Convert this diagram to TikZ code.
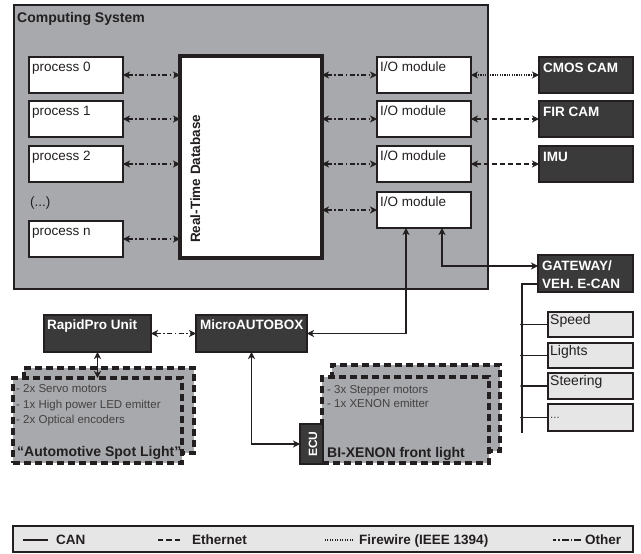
\documentclass[tikz,border=0pt]{standalone}
\usepackage{fontspec}
\setmainfont{Liberation Sans}
\usetikzlibrary{arrows.meta,calc}
\definecolor{sysgray}{HTML}{A7A9AC}
\definecolor{darkfill}{HTML}{3A3A3A}
\definecolor{lightfill}{HTML}{E6E6E7}
\definecolor{ink}{HTML}{231F20}
\tikzset{
 box/.style={inner sep=0pt, outer sep=0pt, anchor=north west},
 sysbox/.style={box, fill=sysgray, draw=ink, line width=1.5pt},
 wbox/.style={box, fill=white, draw=ink, line width=1.4pt},
 dbbox/.style={box, fill=white, draw=ink, line width=3.5pt},
 dbox/.style={box, fill=darkfill, draw=ink, line width=1.2pt},
 lbox/.style={box, fill=lightfill, draw=ink, line width=1.2pt},
 spotbox/.style={box, fill=sysgray, draw=ink, line width=3.3pt, dash pattern=on 7pt off 4pt},
 txt/.style={inner sep=0pt, anchor=base west, text=ink, font=\fontsize{13.5}{16}\selectfont},
 btxt/.style={txt, font=\fontsize{14}{16}\selectfont\bfseries},
 ltxt/.style={txt, font=\fontsize{13.5}{16}\selectfont\bfseries},
 dtxt/.style={inner sep=0pt, anchor=base west, text=white, font=\fontsize{13.5}{16}\selectfont\bfseries},
 stxt/.style={txt, text=ink!85, font=\fontsize{11.5}{14}\selectfont},
 tip/.tip={Stealth[length=7pt,width=7pt,inset=2pt]},
 conn/.style={line width=1.3pt, draw=ink, tip-tip},
 can/.style={conn},
 ether/.style={conn, dash pattern=on 5pt off 3pt},
 fire/.style={conn, dash pattern=on 1.2pt off 1.2pt},
 other/.style={conn, dash pattern=on 5pt off 2.5pt on 1.5pt off 2.5pt},
 bus/.style={line width=1.3pt, draw=ink},
}
\begin{document}
\begin{tikzpicture}[x=1pt,y=-1pt]
\useasboundingbox (0,0) rectangle (641,554);

% Computing system
\node[sysbox, minimum width=474pt, minimum height=284pt] (sys) at (14,5) {};
\node[btxt] (syst) at (17,22) {Computing System};

% processes
\node[wbox, minimum width=94pt, minimum height=36pt] (p0) at (29,57) {};
\node[wbox, minimum width=94pt, minimum height=36pt] (p1) at (29,101) {};
\node[wbox, minimum width=94pt, minimum height=36pt] (p2) at (29,146) {};
\node[wbox, minimum width=94pt, minimum height=36pt] (pn) at (29,221) {};
\node[txt] (p0t) at (32,71) {process 0};
\node[txt] (p1t) at (32,115) {process 1};
\node[txt] (p2t) at (32,160) {process 2};
\node[txt] (pdt) at (30,206) {(...)};
\node[txt] (pnt) at (32,235) {process n};

% RTDB
\node[dbbox, minimum width=142pt, minimum height=202pt] (db) at (180,56) {};
\node[ltxt, rotate=90] (dbt) at (200,243) {Real-Time Database};

% IO modules
\node[wbox, minimum width=94pt, minimum height=36pt] (io0) at (377,57) {};
\node[wbox, minimum width=94pt, minimum height=36pt] (io1) at (377,101) {};
\node[wbox, minimum width=94pt, minimum height=36pt] (io2) at (377,146) {};
\node[wbox, minimum width=94pt, minimum height=36pt] (io3) at (377,192) {};
\node[txt] (io0t) at (380,71) {I/O module};
\node[txt] (io1t) at (380,115) {I/O module};
\node[txt] (io2t) at (380,160) {I/O module};
\node[txt] (io3t) at (380,206) {I/O module};

% sensors
\node[dbox, minimum width=94pt, minimum height=36pt] (cmos) at (539,57) {};
\node[dbox, minimum width=94pt, minimum height=36pt] (fir) at (539,101) {};
\node[dbox, minimum width=94pt, minimum height=36pt] (imu) at (539,146) {};
\node[dtxt] (cmost) at (543,72) {CMOS CAM};
\node[dtxt] (firt) at (543,116) {FIR CAM};
\node[dtxt] (imut) at (543,161) {IMU};

% gateway
\node[dbox, minimum width=95pt, minimum height=37pt] (gw) at (538,255) {};
\node[dtxt] (gw1) at (542,270) {GATEWAY/};
\node[dtxt] (gw2) at (542,288) {VEH. E-CAN};

% CAN signals
\node[lbox, minimum width=85pt, minimum height=25pt] (spd) at (548,312) {};
\node[lbox, minimum width=85pt, minimum height=25pt] (lig) at (548,343) {};
\node[lbox, minimum width=85pt, minimum height=26pt] (ste) at (548,373) {};
\node[lbox, minimum width=85pt, minimum height=27pt] (dots) at (548,404) {};
\node[txt, font=\fontsize{14}{16}\selectfont] (spdt) at (550,324) {Speed};
\node[txt, font=\fontsize{14}{16}\selectfont] (ligt) at (550,355) {Lights};
\node[txt, font=\fontsize{14}{16}\selectfont] (stet) at (550,385) {Steering};
\node[stxt] (dotst) at (550,418) {...};

% RapidPro / MicroAUTOBOX
\node[dbox, minimum width=107pt, minimum height=37pt] (rp) at (44,315) {};
\node[dtxt] (rpt) at (47,329) {RapidPro Unit};
\node[dbox, minimum width=111pt, minimum height=37pt] (mab) at (196,315) {};
\node[dtxt] (mabt) at (200,329) {MicroAUTOBOX};

% Spot light
\node[spotbox, minimum width=170pt, minimum height=85pt] (spotb) at (24,368) {};
\node[spotbox, minimum width=169pt, minimum height=85pt] (spotf) at (13,378) {};
\node[stxt] (s1) at (16,392) {- 2x Servo motors};
\node[stxt] (s2) at (16,408) {- 1x High power LED emitter};
\node[stxt] (s3) at (16,423) {- 2x Optical encoders};
\node[btxt] (spott) at (17,456) {\char"201C Automotive Spot Light\char"201D};

% BI-XENON
\node[spotbox, minimum width=168pt, minimum height=86pt] (bib) at (332,365) {};
\node[spotbox, minimum width=167pt, minimum height=86pt] (bif) at (322,377) {};
\node[stxt] (b1) at (327,393) {- 3x Stepper motors};
\node[stxt] (b2) at (327,407) {- 1x XENON emitter};
\node[btxt] (bit) at (327,457) {BI-XENON front light};
\node[dbox, minimum width=23pt, minimum height=40pt] (ecu) at (300,424) {};
\node[dtxt, rotate=90, font=\fontsize{12}{14}\selectfont\bfseries] (ecut) at (317,457) {ECU};

% connectors: processes <-> RTDB
\draw[other] (p0.east) -- (p0.east -| db.west);
\draw[other] (p1.east) -- (p1.east -| db.west);
\draw[other] (p2.east) -- (p2.east -| db.west);
\draw[other] (pn.east) -- (pn.east -| db.west);
% RTDB <-> IO
\draw[other] (io0.west -| db.east) -- (io0.west);
\draw[other] (io1.west -| db.east) -- (io1.west);
\draw[other] (io2.west -| db.east) -- (io2.west);
\draw[other] (io3.west -| db.east) -- (io3.west);
% IO <-> sensors
\draw[fire] (io0.east) -- (cmos.west);
\draw[ether] (io1.east) -- (fir.west);
\draw[ether] (io2.east) -- (imu.west);
% IO <-> gateway, MicroAUTOBOX
\draw[can] ([xshift=18pt]io3.south) |- ([yshift=7.5pt]gw.west);
\draw[can] ([xshift=-18pt]io3.south) |- (mab.east);
% RapidPro
\draw[other] (rp.east) -- (mab.west);
\draw[can] (rp.south) -- (rp.south |- spotf.north);
% MicroAUTOBOX -> ECU
\draw[can] (mab.south) |- (ecu.west);

% CAN bus
\coordinate (busend) at (522,433);
\draw[bus] ([yshift=-10.5pt]gw.west) -| (busend);
\foreach \b in {spd,lig,ste,dots}{
  \draw[bus] (\b.west -| busend) -- (\b.west);
  \fill[ink] (\b.west -| busend) circle (1.9pt);
}

% legend
\node[lbox, minimum width=620pt, minimum height=26pt] (leg) at (13,526) {};
\node[ltxt] (lcan) at (56,544) {CAN};
\node[ltxt] (leth) at (192,544) {Ethernet};
\node[ltxt] (lfire) at (359,544) {Firewire (IEEE 1394)};
\node[ltxt] (loth) at (585,544) {Other};
\draw[line width=1.2pt, draw=ink] ([xshift=-8pt,yshift=4pt]lcan.base west) -- ++(-25,0);
\draw[line width=1.2pt, draw=ink, dash pattern=on 5.5pt off 3pt] ([xshift=-12pt,yshift=4pt]leth.base west) -- ++(-24,0);
\draw[line width=1.2pt, draw=ink, dash pattern=on 1pt off 1.5pt] ([xshift=-6pt,yshift=4pt]lfire.base west) -- ++(-30,0);
\draw[line width=1.2pt, draw=ink, dash pattern=on 7pt off 2pt on 1.5pt off 2pt] ([xshift=-4pt,yshift=4pt]loth.base west) -- ++(-28,0);
\end{tikzpicture}
\end{document}
